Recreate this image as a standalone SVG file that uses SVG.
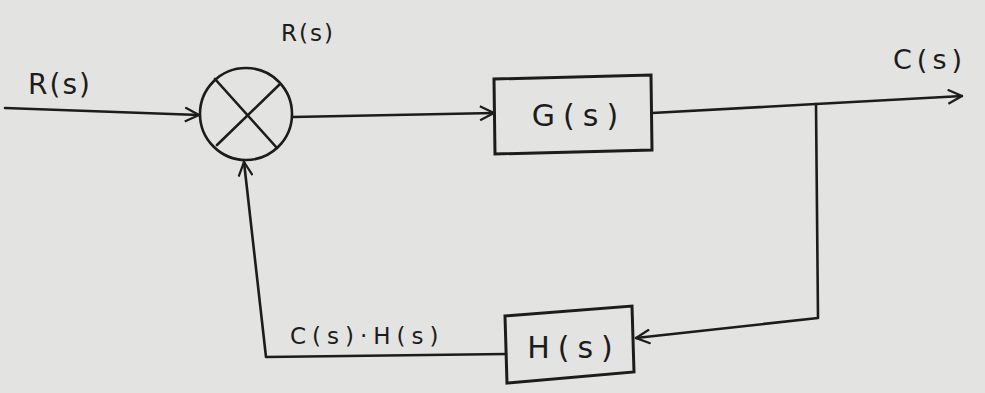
<svg xmlns="http://www.w3.org/2000/svg" width="985" height="393" viewBox="0 0 985 393">
<defs>
<marker id="arrL" viewBox="0 0 16 16" refX="15" refY="8" markerWidth="16" markerHeight="16" markerUnits="userSpaceOnUse" orient="auto">
<path d="M1,1 L15,8 L1,15" fill="none" stroke="#1c1c1c" stroke-width="2.2"/>
</marker>
</defs>
<style>
.ln{fill:none;stroke:#1c1c1c;stroke-width:2.6;stroke-linecap:round;stroke-linejoin:round}
.box{fill:none;stroke:#1c1c1c;stroke-width:3}
.t{font-family:"DejaVu Sans","Liberation Sans",sans-serif;fill:#1c1c1c}
</style>
<rect width="985" height="393" fill="#e3e3e1"/>
<g id="connectors">
<path class="ln" d="M5,108 L199,115" marker-end="url(#arrL)"/>
<path class="ln" d="M293,117 L494,113" marker-end="url(#arrL)"/>
<path class="ln" d="M652,113 L816,104 L962,96" marker-end="url(#arrL)"/>
<path class="ln" d="M816,104 L818,318 L636,338" marker-end="url(#arrL)"/>
<path class="ln" d="M506,354 L266,357 L244,162" marker-end="url(#arrL)"/>
</g>
<g id="summing">
<circle class="ln" cx="246" cy="114" r="46"/>
<path class="ln" d="M215,79 L277,148 M279,85 L217,145"/>
</g>
<g id="G">
<path class="box" d="M494,79 L651,75 L652,150 L495,154 Z"/>
<text class="t" x="579" y="126" font-size="30" letter-spacing="8" text-anchor="middle">G(s)</text>
</g>
<g id="H">
<path class="box" d="M505,316 L632,306 L634,372 L507,383 Z"/>
<text class="t" x="574" y="358" font-size="30" letter-spacing="8" text-anchor="middle">H(s)</text>
</g>
<g id="labels">
<text class="t" x="28" y="94" font-size="28" letter-spacing="2">R(s)</text>
<text class="t" x="281" y="41" font-size="23" letter-spacing="2">R(s)</text>
<text class="t" x="893" y="69" font-size="27" letter-spacing="5">C(s)</text>
<text class="t" x="290" y="344" font-size="23" letter-spacing="6">C(s)·H(s)</text>
</g>
</svg>
